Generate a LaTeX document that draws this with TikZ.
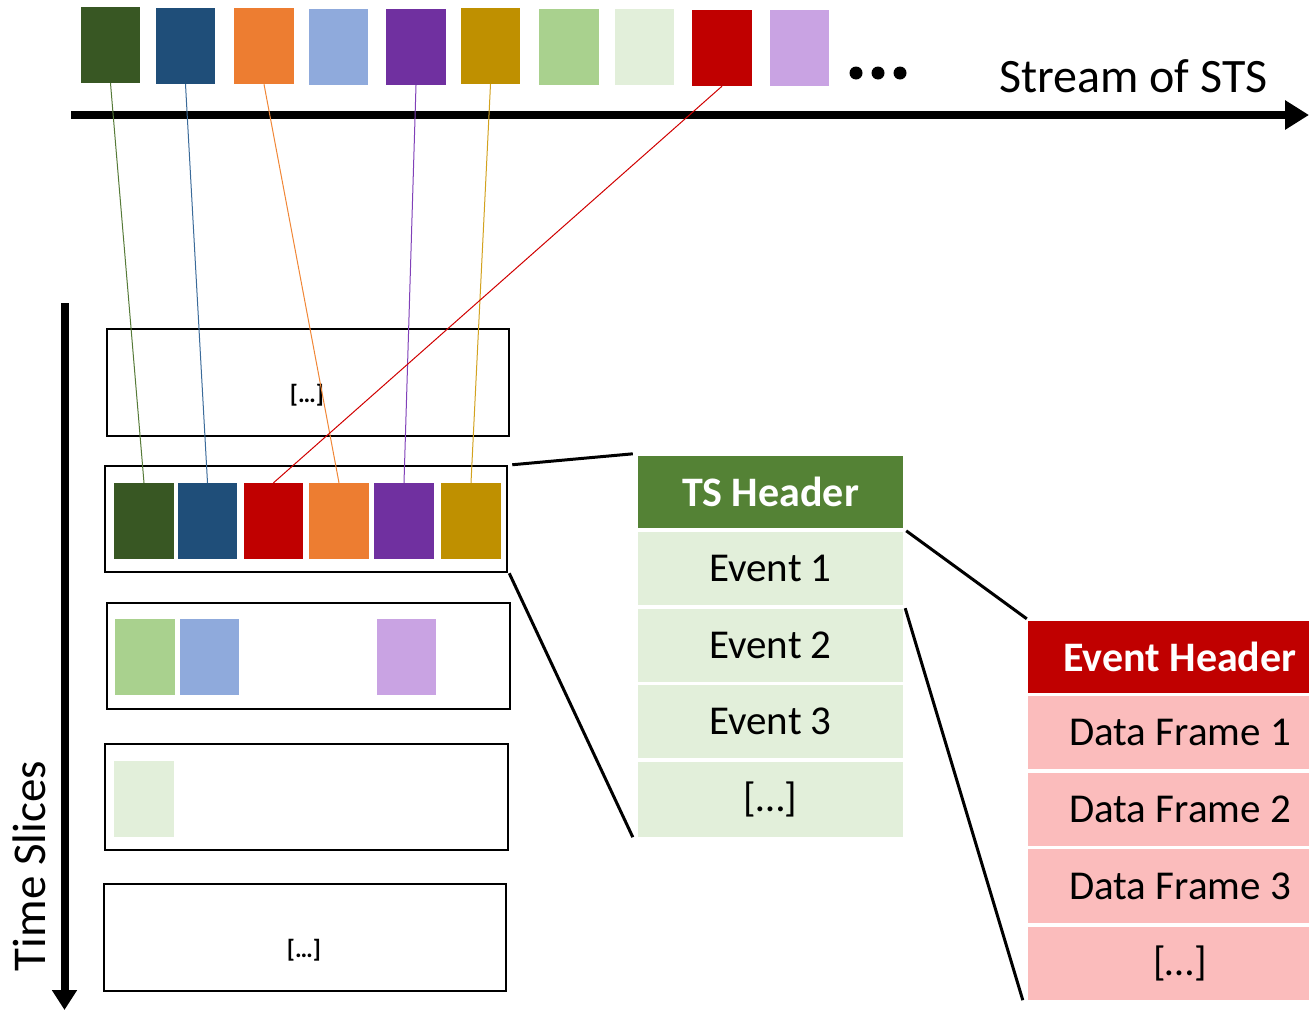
\documentclass[tikz,border=0pt]{standalone}
\usepackage{fontspec}
\setmainfont{Carlito}
\usetikzlibrary{arrows.meta}
\definecolor{cDkGreen}{HTML}{385723}
\definecolor{cBlue}{HTML}{1F4E79}
\definecolor{cOrange}{HTML}{ED7D31}
\definecolor{cLtBlue}{HTML}{8FAADC}
\definecolor{cPurple}{HTML}{7030A0}
\definecolor{cGold}{HTML}{BF9000}
\definecolor{cLtGreen}{HTML}{A9D18E}
\definecolor{cPaleGreen}{HTML}{E2EFDA}
\definecolor{cRed}{HTML}{C00000}
\definecolor{cLavender}{HTML}{C9A3E3}
\definecolor{cHeadGreen}{HTML}{548235}
\definecolor{cPink}{HTML}{FBBCBC}
\definecolor{lDkGreen}{HTML}{557A37}
\definecolor{lBlue}{HTML}{3A6A99}
\definecolor{lOrange}{HTML}{F08636}
\definecolor{lPurple}{HTML}{8040B8}
\definecolor{lGold}{HTML}{D2A21E}
\definecolor{lRed}{HTML}{D00000}
\tikzset{
  sq/.style={draw=none, inner sep=0pt, minimum width=59.5pt, minimum height=76pt},
  slicebox/.style={draw=black, line width=2.5pt, inner sep=0pt, minimum width=402pt, minimum height=106pt},
  thin/.style={line width=1pt},
  conn/.style={draw=black, line width=3pt},
  axis/.style={line width=8pt},
  tsrow/.style={inner sep=0pt, minimum width=265pt, fill=cPaleGreen, text=black,
     font=\fontsize{41}{49}\selectfont},
  dfrow/.style={inner sep=0pt, minimum width=304pt, fill=cPink, text=black,
     font=\fontsize{41}{49}\selectfont},
  small/.style={font=\fontsize{25}{30}\selectfont\bfseries, inner sep=0pt}
}
\begin{document}
\begin{tikzpicture}[x=1pt,y=-1pt]
\useasboundingbox (0,0) rectangle (1309,1010);
\clip (0,0) rectangle (1309,1010);

% stream squares
\node[sq, fill=cDkGreen]   (t1)  at (110.5,45) {};
\node[sq, fill=cBlue]      (t2)  at (185.5,46) {};
\node[sq, fill=cOrange]    (t3)  at (264,46) {};
\node[sq, fill=cLtBlue]    (t4)  at (338.5,47) {};
\node[sq, fill=cPurple]    (t5)  at (416,47) {};
\node[sq, fill=cGold]      (t6)  at (490.5,46) {};
\node[sq, fill=cLtGreen]   (t7)  at (569,47) {};
\node[sq, fill=cPaleGreen] (t8)  at (644.5,47) {};
\node[sq, fill=cRed]       (t9)  at (722,48) {};
\node[sq, fill=cLavender]  (t10) at (799.5,48) {};
\fill (856,73) circle[radius=6.5] (878,73) circle[radius=6.5] (900,73) circle[radius=6.5];
\node[anchor=base west, inner sep=0pt, font=\fontsize{48}{58}\selectfont] (stream) at (999,92) {Stream of STS};

% axes
\coordinate (hs) at (71,115);
\coordinate (he) at (1309,115);
\draw[axis, -{Triangle[length=24pt,width=28pt]}] (hs) -- (he);
\coordinate (vs) at (64.5,303);
\coordinate (ve) at (64.5,1010);
\draw[axis, -{Triangle[length=20pt,width=24pt]}] (vs) -- (ve);
\node[rotate=90, inner sep=0pt, font=\fontsize{47}{56}\selectfont] (tslabel) at (29,866) {Time Slices};

% slice boxes
\node[slicebox, minimum height=107pt] (b1) at (308,382.5) {};
\node[small] (b1t) at (307,395) {[…]};
\node[slicebox] (b2) at (306,519) {};
\node[slicebox, minimum width=403pt] (b3) at (308.5,656) {};
\node[slicebox, minimum width=403pt] (b4) at (306.5,797) {};
\node[slicebox, minimum height=107pt] (b5) at (305,937.5) {};
\node[small] (b5t) at (304,950) {[…]};

% squares in slice 2
\node[sq, fill=cDkGreen] (s1) at (144,521) {};
\node[sq, fill=cBlue]    (s2) at (207.5,521) {};
\node[sq, fill=cRed]     (s3) at (273.5,521) {};
\node[sq, fill=cOrange]  (s4) at (339,521) {};
\node[sq, fill=cPurple]  (s5) at (404,521) {};
\node[sq, fill=cGold]    (s6) at (471,521) {};
% squares in slice 3
\node[sq, fill=cLtGreen]  (u1) at (145,657) {};
\node[sq, fill=cLtBlue]   (u2) at (209.5,657) {};
\node[sq, fill=cLavender] (u3) at (406.5,657) {};
% square in slice 4
\node[sq, fill=cPaleGreen] (v1) at (144,799) {};

% mapping lines
\draw[thin, lDkGreen] (t1.south) -- (s1.north);
\draw[thin, lBlue]    (t2.south) -- (s2.north);
\draw[thin, lOrange]  (t3.south) -- (s4.north);
\draw[thin, lPurple]  (t5.south) -- (s5.north);
\draw[thin, lGold]    (t6.south) -- (s6.north);
\draw[thin, lRed]     (t9.south) -- (s3.north);

% TS table
\node[tsrow, fill=cHeadGreen, text=white, minimum height=72pt,
      font=\fontsize{42}{50}\selectfont\bfseries] (tsh) at (770.5,492) {TS Header};
\node[tsrow, minimum height=73pt] (ev1) at (770.5,568.5) {Event 1};
\node[tsrow, minimum height=73pt] (ev2) at (770.5,645.5) {Event 2};
\node[tsrow, minimum height=73pt] (ev3) at (770.5,721.5) {Event 3};
\node[tsrow, minimum height=75pt] (evx) at (770.5,799.5) {[…]};

% Event table
\node[dfrow, fill=cRed, text=white, minimum height=72pt,
      font=\fontsize{42}{50}\selectfont\bfseries] (eh) at (1180,657) {Event Header};
\node[dfrow, minimum height=73pt] (df1) at (1180,732.5) {Data Frame 1};
\node[dfrow, minimum height=73pt] (df2) at (1180,809.5) {Data Frame 2};
\node[dfrow, minimum height=74pt] (df3) at (1180,886) {Data Frame 3};
\node[dfrow, minimum height=73pt] (dfx) at (1180,963.5) {[…]};

% zoom connectors
\draw[conn] ([xshift=4pt]b2.north east) -- ([xshift=-5pt,yshift=2pt]tsh.north west);
\draw[conn] ([xshift=1pt]b2.south east) -- ([xshift=-5pt]evx.south west);
\draw[conn] ([xshift=3pt,yshift=1pt]ev1.north east) -- ([xshift=-1pt,yshift=2pt]eh.north west);
\draw[conn] ([xshift=2pt,yshift=-3pt]ev1.south east) -- ([xshift=-5pt]dfx.south west);
\end{tikzpicture}
\end{document}
